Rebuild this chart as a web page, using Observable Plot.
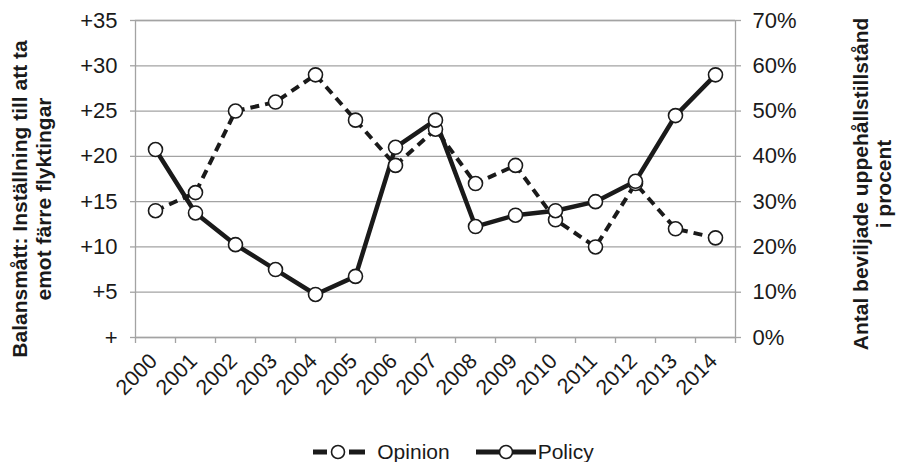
<!DOCTYPE html>
<html>
<head>
<meta charset="utf-8">
<script src="https://cdn.jsdelivr.net/npm/d3@7"></script>
<script src="https://cdn.jsdelivr.net/npm/@observablehq/plot@0.6"></script>
<style>
  html, body { margin: 0; padding: 0; background: #fff; }
  #wrap { position: relative; width: 897px; height: 462px; font-family: "Liberation Sans", Arial, sans-serif; color: #1a1a1a; }
  #legend { position: absolute; left: 5px; top: 438px; width: 897px; display: flex; justify-content: center; align-items: center; font-size: 21px; line-height: 28px; }
  #legend .item { display: flex; align-items: center; }
  #legend svg { display: block; }
</style>
</head>
<body>
<div id="wrap">
  <div id="chart"></div>
  <div id="legend"></div>
</div>
<script>
// ---- data ----
const years = [2000, 2001, 2002, 2003, 2004, 2005, 2006, 2007, 2008, 2009, 2010, 2011, 2012, 2013, 2014];
// Opinion: balance measure (left axis)
const opinion = [14, 16, 25, 26, 29, 24, 19, 23, 17, 19, 13, 10, 17, 12, 11];
// Policy: granted residence permits in percent (right axis)
const policy = [41.5, 27.5, 20.5, 15, 9.5, 13.5, 42, 48, 24.5, 27, 28, 30, 34.5, 49, 58];
const leftTicks = [0, 5, 10, 15, 20, 25, 30, 35];
const leftLabels = ["+", "+5", "+10", "+15", "+20", "+25", "+30", "+35"];
const rightTicks = [0, 10, 20, 30, 40, 50, 60, 70];
const rightLabels = ["0%", "10%", "20%", "30%", "40%", "50%", "60%", "70%"];
const seriesNames = ["Opinion", "Policy"];
const leftTitle = "Balansmått: Inställning till att ta\nemot färre flyktingar";
const rightTitle = "Antal beviljade uppehållstillstånd\ni procent";

// right axis (0–70%) maps onto left axis (0–35)
const rightToLeft = 35 / 70;

const opinionData = years.map((year, i) => ({year, value: opinion[i]}));
const policyData = years.map((year, i) => ({year, value: policy[i] * rightToLeft}));
const boundaries = years.map(y => y - 0.5).concat([years[years.length - 1] + 0.5]);

const gray = "#a3a3a3";
const ink = "#1a1a1a";

const chart = Plot.plot({
  width: 897,
  height: 420,
  marginLeft: 135,
  marginRight: 162,
  marginTop: 20,
  marginBottom: 83,
  style: {fontFamily: "'Liberation Sans', Arial, sans-serif", fontSize: "22px", color: ink, background: "white", overflow: "visible"},
  x: {type: "linear", domain: [years[0] - 0.5, years[years.length - 1] + 0.5], axis: null},
  y: {domain: [0, 35], axis: null},
  marks: [
    Plot.gridY(leftTicks, {stroke: gray, strokeOpacity: 1, strokeWidth: 1.3}),
    Plot.frame({stroke: gray, strokeWidth: 1.3}),
    Plot.axisY(leftTicks, {anchor: "left", label: null, tickSize: 5, tickPadding: 13, stroke: gray, strokeWidth: 1.3, fill: ink,
      tickFormat: (d) => leftLabels[leftTicks.indexOf(d)]}),
    Plot.axisY(rightTicks.map(v => v * rightToLeft), {anchor: "right", label: null, tickSize: 5, tickPadding: 12, stroke: gray, strokeWidth: 1.3, fill: ink,
      tickFormat: (d) => rightLabels[rightTicks.indexOf(Math.round(d / rightToLeft))]}),
    Plot.axisX(boundaries, {anchor: "bottom", label: null, tickSize: 6, stroke: gray, strokeWidth: 1.3, tickFormat: () => ""}),
    Plot.axisX(years, {anchor: "bottom", label: null, tickSize: 0, tickPadding: 20, dx: -2, tickRotate: -45, fill: ink, fontSize: 21.5, tickFormat: d => String(d)}),
    Plot.line(opinionData, {x: "year", y: "value", stroke: ink, strokeWidth: 4, strokeDasharray: "9,6", strokeLinecap: "butt"}),
    Plot.line(policyData, {x: "year", y: "value", stroke: ink, strokeWidth: 4.5}),
    Plot.dot(opinionData, {x: "year", y: "value", r: 7, fill: "white", stroke: ink, strokeWidth: 1.6}),
    Plot.dot(policyData, {x: "year", y: "value", r: 7, fill: "white", stroke: ink, strokeWidth: 1.6}),
    Plot.text([leftTitle], {frameAnchor: "left", dx: -104, dy: 20, rotate: -90, fontWeight: "bold", fontSize: 21, lineHeight: 1.15, fill: ink, textAnchor: "middle"}),
    Plot.text([rightTitle], {frameAnchor: "right", dx: 137, dy: 5, rotate: -90, fontWeight: "bold", fontSize: 21, lineHeight: 1.1, fill: ink, textAnchor: "middle"})
  ]
});
document.getElementById("chart").appendChild(chart);

// ---- legend ----
const legend = d3.select("#legend");
const optItem = legend.append("div").attr("class", "item");
const s1 = optItem.append("svg").attr("width", 52).attr("height", 20);
s1.append("line").attr("x1", 0).attr("x2", 52).attr("y1", 10).attr("y2", 10)
  .attr("stroke", ink).attr("stroke-width", 5).attr("stroke-dasharray", "14,22,16");
s1.append("circle").attr("cx", 25).attr("cy", 10).attr("r", 6.5).attr("fill", "white").attr("stroke", ink).attr("stroke-width", 1.6);
optItem.append("span").text(seriesNames[0]).style("margin-left", "12px");

const polItem = legend.append("div").attr("class", "item").style("margin-left", "26px");
const s2 = polItem.append("svg").attr("width", 60).attr("height", 20);
s2.append("line").attr("x1", 0).attr("x2", 60).attr("y1", 10).attr("y2", 10)
  .attr("stroke", ink).attr("stroke-width", 5);
s2.append("circle").attr("cx", 30).attr("cy", 10).attr("r", 6.5).attr("fill", "white").attr("stroke", ink).attr("stroke-width", 1.6);
polItem.append("span").text(seriesNames[1]).style("margin-left", "2px");
</script>
</body>
</html>
